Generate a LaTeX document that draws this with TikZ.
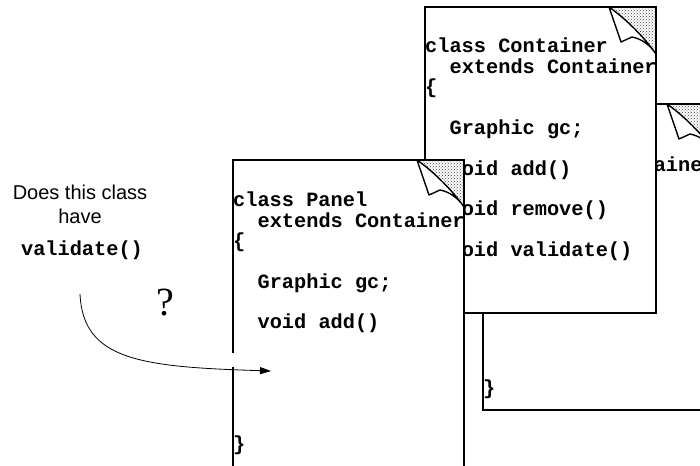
\documentclass[tikz,border=0pt]{standalone}
\usepackage{fontspec}
\usetikzlibrary{patterns,arrows.meta,calc}
\newfontfamily\codefont{Liberation Mono}
\newfontfamily\labelfont{Liberation Sans}
\newfontfamily\qfont{Liberation Serif}
\tikzset{
  page/.style={draw, fill=white, line width=1.8pt, minimum width=231pt,
    minimum height=306pt, inner sep=0pt, outer sep=0pt, anchor=north west},
  code/.style={font=\codefont\bfseries\fontsize{20.3}{24}\selectfont,
    anchor=base west, inner sep=0pt},
  question/.style={font=\labelfont\fontsize{20}{24}\selectfont, anchor=base, inner sep=0pt},
  bigq/.style={font=\qfont\fontsize{40}{48}\selectfont, anchor=base, inner sep=0pt},
  earflap/.style={draw, fill=white, line width=1.4pt, line join=round},
  eardots/.style={pattern=crosshatch dots, pattern color=black!75},
  pageedge/.style={line width=1.8pt, line cap=rect},
  callout/.style={line width=0.8pt, -{Triangle[length=11pt,width=7pt]}}
}
\newcommand{\pageear}[1]{%
  \begin{scope}[shift={(#1.north east)}]
    \fill[eardots] (-47,0) -- (0,0) -- (0,47) -- cycle;
    \draw[earflap] (-47,0) -- (-35,35) -- (-24,30)
      .. controls (-14,32) and (-6,38) .. (0,47)
      .. controls (-12,30) and (-30,12) .. (-47,0) -- cycle;
    \draw[pageedge] (-47,0) -- (0,0) -- (0,47);
  \end{scope}}
\begin{document}
\begin{tikzpicture}[x=1pt,y=-1pt]
\useasboundingbox (0,0) rectangle (700,465);
\clip (0,0) rectangle (700,465);

% back page
\node[page] (pb) at (483,104) {};
\node[code] (pb2) at ($(pb.north west)+(24.4,67)$) {extends Container};
\node[code] (pb9) at ($(pb.north west)+(0,290)$) {\}};
\pageear{pb}

% middle page
\node[page] (pm) at (425,7) {};
\node[code] (pm1) at ($(pm.north west)+(0,46)$) {class Container};
\node[code] (pm2) at ($(pm.north west)+(24.4,67)$) {extends Container};
\node[code] (pm3) at ($(pm.north west)+(0,87)$) {\{};
\node[code] (pm4) at ($(pm.north west)+(24.4,128)$) {Graphic gc;};
\node[code] (pm5) at ($(pm.north west)+(24.4,168)$) {void add()};
\node[code] (pm6) at ($(pm.north west)+(24.4,208)$) {void remove()};
\node[code] (pm7) at ($(pm.north west)+(24.4,249)$) {void validate()};
\pageear{pm}

% front page (its lower edge lies below the picture)
\node[page, minimum height=314pt] (pf) at (233,160) {};
\node[code] (pf1) at ($(pf.north west)+(0,46)$) {class Panel};
\node[code] (pf2) at ($(pf.north west)+(24.4,67)$) {extends Container};
\node[code] (pf3) at ($(pf.north west)+(0,87)$) {\{};
\node[code] (pf4) at ($(pf.north west)+(24.4,128)$) {Graphic gc;};
\node[code] (pf5) at ($(pf.north west)+(24.4,168)$) {void add()};
\node[code] (pf9) at ($(pf.north west)+(0,290)$) {\}};
\pageear{pf}

% question
\node[question] (q1) at (80,199) {Does this class};
\node[question] (q2) at (80,223) {have};
\node[code, anchor=base] (q3) at (82,255) {validate()};
\node[bigq] (q4) at (165,315) {?};

% arrow
\fill[white] (230,353) rectangle (236.5,366.5);
\coordinate (as) at (80,294);
\coordinate (ae) at (271,371);
\draw[callout] (as) .. controls (83,360) and (140,367) .. (ae);
\end{tikzpicture}
\end{document}
